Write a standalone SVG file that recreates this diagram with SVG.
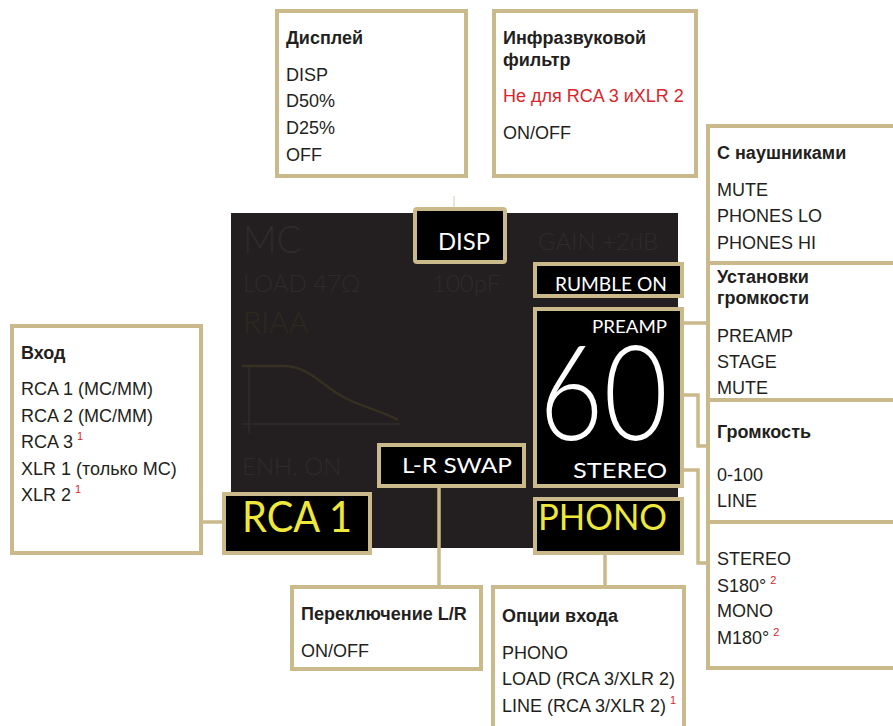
<svg xmlns="http://www.w3.org/2000/svg" width="893" height="726" viewBox="0 0 893 726">
<style>
.box{fill:#fff;stroke:#c9b98b;stroke-width:4}
.ibox{fill:#000;stroke:#c9b98b;stroke-width:4}
.con{fill:none;stroke:#c9b98b;stroke-width:3.5}
.t{font-family:"Liberation Sans",Arial,sans-serif;font-size:18px;fill:#231f20}
.b{font-weight:bold}
.red{fill:#d9262c}
.sup{font-family:"Liberation Sans",Arial,sans-serif;font-size:11px;fill:#d9262c}
.d{font-family:Lato,"Open Sans",sans-serif;font-weight:300}
.r{font-weight:400}
.w{fill:#fff}
.y{fill:#eee83a}
.f{fill:#2e2b2b}
</style>
<rect width="893" height="726" fill="#fff"/>
<g id="panel">
<rect x="231" y="213" width="447" height="335" fill="#231f20"/>
<text class="d f" x="243" y="253" font-size="37">MC</text>
<text class="d f" x="243" y="292" font-size="24">LOAD 47Ω</text>
<text class="d f" x="432" y="292" font-size="24">100pF</text>
<text class="d f" x="538" y="250" font-size="24">GAIN +2dB</text>
<text class="d" x="243" y="333" font-size="30" fill="#2d2a1e">RIAA</text>
<path d="M249 366 V433 M242 424 H400" stroke="#2b2828" stroke-width="2" fill="none"/>
<path d="M242 366 H283 C310 366 320 385 345 398 C365 408 385 412 398 420" stroke="#35301f" stroke-width="2.5" fill="none"/>
<text class="d f" x="242" y="475" font-size="24">ENH. ON</text>
</g>
<g id="connectors">
<path class="con" d="M203 522 H222"/>
<path d="M454 196 V207" stroke="#d5ccb3" stroke-width="1"/>
<path class="con" d="M439 488 V585"/>
<path class="con" d="M605 555 V585"/>
<path class="con" d="M683 323 H708"/>
<path class="con" d="M683 395 H698 V446 H708"/>
<path class="con" d="M683 470 H698 V563 H708"/>
</g>
<g id="disp">
<rect class="ibox" x="415" y="209" width="90" height="53" rx="2"/>
<text class="d r w" x="438" y="250" font-size="24" textLength="52" lengthAdjust="spacingAndGlyphs">DISP</text>
</g>
<g id="rumble">
<rect class="ibox" x="535" y="264" width="147" height="32"/>
<text class="d r w" x="555" y="291" font-size="20" textLength="112" lengthAdjust="spacingAndGlyphs">RUMBLE ON</text>
</g>
<g id="volume">
<rect class="ibox" x="535" y="309" width="147" height="177"/>
<text class="d r w" x="592" y="333" font-size="18" textLength="75" lengthAdjust="spacingAndGlyphs">PREAMP</text>
<text class="d w" x="539" y="440" font-size="133" textLength="129" lengthAdjust="spacingAndGlyphs">60</text>
<text class="d r w" x="573" y="478" font-size="22" textLength="94" lengthAdjust="spacingAndGlyphs">STEREO</text>
</g>
<g id="phono">
<rect class="ibox" x="535" y="499" width="147" height="54"/>
<text class="d r y" x="538" y="530" font-size="36" textLength="129" lengthAdjust="spacingAndGlyphs">PHONO</text>
</g>
<g id="lrswap">
<rect class="ibox" x="379" y="445" width="145" height="41"/>
<text class="d r w" x="402" y="473" font-size="22" textLength="110" lengthAdjust="spacingAndGlyphs">L-R SWAP</text>
</g>
<g id="rca1">
<rect class="ibox" x="224" y="494" width="146" height="59"/>
<text class="d r y" x="242" y="532" font-size="42" textLength="110" lengthAdjust="spacingAndGlyphs">RCA 1</text>
</g>
<g id="display-box">
<rect class="box" x="277" y="11" width="189" height="165"/>
<text class="t b" x="286" y="44">Дисплей</text>
<text class="t" x="286" y="81">DISP</text>
<text class="t" x="286" y="107">D50%</text>
<text class="t" x="286" y="134">D25%</text>
<text class="t" x="286" y="161">OFF</text>
</g>
<g id="rumble-box">
<rect class="box" x="494" y="11" width="202" height="165"/>
<text class="t b" x="503" y="44">Инфразвуковой</text>
<text class="t b" x="503" y="66">фильтр</text>
<text class="t red" x="503" y="102">Не для RCA 3 иXLR 2</text>
<text class="t" x="503" y="139">ON/OFF</text>
</g>
<g id="phones-box">
<rect class="box" x="708" y="126" width="200" height="137"/>
<text class="t b" x="717" y="159">С наушниками</text>
<text class="t" x="717" y="196">MUTE</text>
<text class="t" x="717" y="222">PHONES LO</text>
<text class="t" x="717" y="249">PHONES HI</text>
</g>
<g id="volset-box">
<rect class="box" x="708" y="263" width="200" height="137"/>
<text class="t b" x="717" y="283">Установки</text>
<text class="t b" x="717" y="304">громкости</text>
<text class="t" x="717" y="342">PREAMP</text>
<text class="t" x="717" y="368">STAGE</text>
<text class="t" x="717" y="394">MUTE</text>
</g>
<g id="vol-box">
<rect class="box" x="708" y="400" width="200" height="122"/>
<text class="t b" x="717" y="438">Громкость</text>
<text class="t" x="717" y="481">0-100</text>
<text class="t" x="717" y="507">LINE</text>
</g>
<g id="mode-box">
<rect class="box" x="708" y="522" width="200" height="146"/>
<text class="t" x="717" y="565">STEREO</text>
<text class="t" x="717" y="592">S180°<tspan class="sup" dx="4" dy="-8">2</tspan></text>
<text class="t" x="717" y="617">MONO</text>
<text class="t" x="717" y="644">M180°<tspan class="sup" dx="4" dy="-8">2</tspan></text>
</g>
<g id="input-box">
<rect class="box" x="12" y="326" width="189" height="227"/>
<text class="t b" x="21" y="359">Вход</text>
<text class="t" x="21" y="395">RCA 1 (MC/MM)</text>
<text class="t" x="21" y="422">RCA 2 (MC/MM)</text>
<text class="t" x="21" y="448">RCA 3<tspan class="sup" dx="4" dy="-8">1</tspan></text>
<text class="t" x="21" y="475">XLR 1 (только MC)</text>
<text class="t" x="21" y="501">XLR 2<tspan class="sup" dx="4" dy="-8">1</tspan></text>
</g>
<g id="lr-box">
<rect class="box" x="292" y="587" width="189" height="82"/>
<text class="t b" x="301" y="620">Переключение L/R</text>
<text class="t" x="301" y="657">ON/OFF</text>
</g>
<g id="inputopt-box">
<rect class="box" x="493" y="587" width="191" height="160"/>
<text class="t b" x="502" y="622">Опции входа</text>
<text class="t" x="502" y="659">PHONO</text>
<text class="t" x="502" y="685">LOAD (RCA 3/XLR 2)</text>
<text class="t" x="502" y="712">LINE (RCA 3/XLR 2)<tspan class="sup" dx="4" dy="-8">1</tspan></text>
</g>
</svg>
